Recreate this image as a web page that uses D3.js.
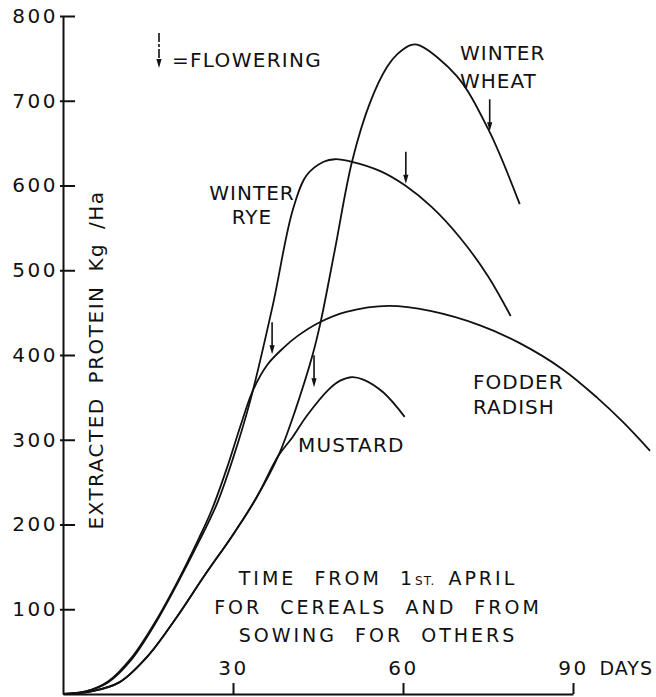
<!DOCTYPE html>
<html>
<head>
<meta charset="utf-8">
<script src="https://cdn.jsdelivr.net/npm/d3@7/dist/d3.min.js"></script>
<style>
  body { margin: 0; background: #fff; }
  svg { display: block; }
  text { font-family: 'DejaVu Sans', sans-serif; fill: #111; }
</style>
</head>
<body>
<svg id="chart" width="656" height="697"></svg>
<script>
// extracted protein (kg/ha) against days
const winterWheat = [[0,0],[5,3],[10,14],[15,45],[20,90],[25,140],[30,188],[34,230],[38,281],
  [41,335],[44,399],[45.5,440],[48,525],[51,628],[54.2,698],[57.2,740],[59,755],[61.5,766],[63,765],
  [69.5,729],[75,667],[80.6,578]];
const mustard = [[0,0],[5,3],[10,14],[15,45],[20,90],[25,140],[30,188],[34,230],[38,281],
  [40.5,303],[43,328],[47,360],[49,370],[51,374],[53,371],[56.5,356],[60.3,327]];
const winterRye = [[0,0],[4,3],[8,14],[12,40],[16,80],[20,128],[24,180],[27.2,225],[30,278],[33,345],
  [37,458],[40.5,570],[43,612],[46,628],[48,631],[51,628],[56,617],[60.4,600],[65,575],[70,539],
  [75,493],[79,446]];
const fodderRadish = [[0,0],[4,3],[8,15],[12,42],[16,82],[20,130],[24,184],[26.3,218],[29,268],
  [31.5,320],[33.5,358],[36,388],[39,409],[41.3,422],[45.4,439],[50,451],[57.5,458],[64.8,452],
  [73.6,435],[80.6,414],[88.2,383],[94.2,350],[98.8,321],[103.6,287]];

// flowering arrows: day and protein level at the arrow tip
const flowering = [
  { crop: 'wheat',   day: 75.3, protein: 664 },
  { crop: 'rye',     day: 60.5, protein: 602 },
  { crop: 'radish',  day: 36.9, protein: 401 },
  { crop: 'mustard', day: 44.3, protein: 362 }
];

const yTicks = [100, 200, 300, 400, 500, 600, 700, 800];
const xTicks = [30, 60, 90];

const svg = d3.select('#chart');
const x = d3.scaleLinear().domain([0, 90]).range([63, 573]);
const y = d3.scaleLinear().domain([0, 800]).range([694, 16]);

// axes
const yAxis = svg.append('g')
  .attr('transform', 'translate(63,0)')
  .call(d3.axisLeft(y).tickValues(yTicks).tickSizeInner(-12).tickSizeOuter(0).tickPadding(5));
yAxis.selectAll('.tick line').attr('x1', -3);

const xAxis = svg.append('g')
  .attr('transform', 'translate(0,694)')
  .call(d3.axisTop(x).tickValues(xTicks).tickSizeInner(11).tickSizeOuter(0).tickPadding(8));

[yAxis, xAxis].forEach(g => {
  g.attr('font-family', null).attr('font-size', null);
  g.selectAll('path, line').attr('stroke', '#111').attr('stroke-width', 2);
  g.selectAll('text').attr('fill', '#111').style('font-size', '20px').style('letter-spacing', '2.5px');
});

xAxis.selectAll('.tick').filter(d => d === 90).append('text')
  .attr('x', 26).attr('y', -19).attr('text-anchor', 'start')
  .attr('fill', '#111').style('font-size', '19px').style('letter-spacing', '1px')
  .text('DAYS');

// curves
const line = d3.line().x(d => x(d[0])).y(d => y(d[1])).curve(d3.curveCatmullRom.alpha(0.5));
const series = { wheat: winterWheat, rye: winterRye, radish: fodderRadish, mustard: mustard };
svg.append('g').selectAll('path')
  .data(Object.values(series)).enter().append('path')
  .attr('d', line)
  .attr('fill', 'none').attr('stroke', '#111').attr('stroke-width', 1.8);

// arrows
function arrow(g, ax, tip, len, dash) {
  g.append('line')
    .attr('x1', ax).attr('x2', ax).attr('y1', tip - len).attr('y2', tip - 7)
    .attr('stroke', '#111').attr('stroke-width', 1.6)
    .attr('stroke-dasharray', dash || null);
  g.append('path')
    .attr('d', `M${ax - 2.6},${tip - 9}L${ax + 2.6},${tip - 9}L${ax},${tip}Z`)
    .attr('fill', '#111');
}
const arrows = svg.append('g');
flowering.forEach(f => arrow(arrows, x(f.day), y(f.protein), 32));

// legend
arrow(arrows, 159, 68, 35, '9,2,3,2');
svg.append('text').attr('x', 172).attr('y', 67)
  .style('font-size', '20px').style('letter-spacing', '1.3px')
  .text('=FLOWERING');

// crop labels
const lab = (tx, ty, txt, anchor, ls) => svg.append('text')
  .attr('x', tx).attr('y', ty).attr('text-anchor', anchor || 'start')
  .style('font-size', '20px').style('letter-spacing', (ls || 1) + 'px')
  .text(txt);
lab(460, 60, 'WINTER'); lab(460, 88, 'WHEAT');
lab(252, 200, 'WINTER', 'middle'); lab(252, 224, 'RYE', 'middle');
lab(473, 389, 'FODDER'); lab(473, 414, 'RADISH');
lab(298, 452, 'MUSTARD', 'start', 1.2);

// axis titles
svg.append('text')
  .attr('transform', 'translate(103,360) rotate(-90)')
  .attr('text-anchor', 'middle')
  .style('font-size', '20px').style('letter-spacing', '1.5px').style('word-spacing', '6px')
  .text('EXTRACTED PROTEIN Kg /Ha');

const xt = svg.append('text').attr('text-anchor', 'middle')
  .style('font-size', '19px').style('letter-spacing', '3px').style('word-spacing', '9px');
const l1 = xt.append('tspan').attr('x', 378).attr('y', 585);
l1.append('tspan').text('TIME FROM 1');
l1.append('tspan').style('font-size', '12px').style('letter-spacing', '1px').text('ST.');
l1.append('tspan').style('word-spacing', '4px').text(' APRIL');
xt.append('tspan').attr('x', 378).attr('y', 614).text('FOR CEREALS AND FROM');
xt.append('tspan').attr('x', 378).attr('y', 642).text('SOWING FOR OTHERS');
</script>
</body>
</html>
